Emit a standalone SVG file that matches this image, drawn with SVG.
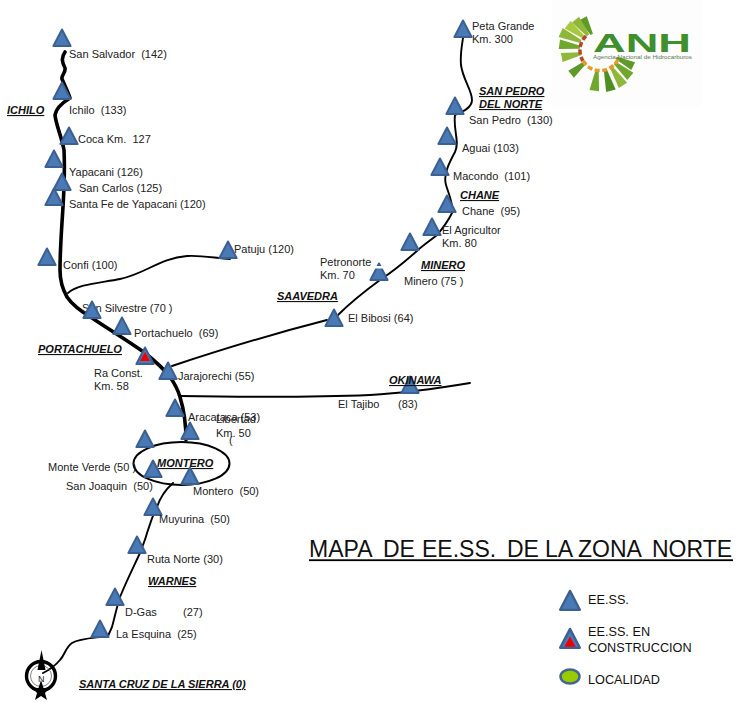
<svg xmlns="http://www.w3.org/2000/svg" width="749" height="718" viewBox="0 0 749 718">
<style>
text{font-family:"Liberation Sans",Arial,sans-serif;fill:#222}
.l{font-size:11px;white-space:pre}
.z{font-size:11px;font-weight:bold;font-style:italic;text-decoration:underline;fill:#111}
.leg{font-size:12.7px;fill:#111}
.r{fill:none;stroke:#000;stroke-linecap:round;stroke-linejoin:round}
.t{stroke-width:3.6}.n{stroke-width:1.9}
</style>
<defs>
<path id="tri" d="M0,-17.5 L8.6,-1 L-8.6,-1 Z" fill="#4a7ab5" stroke="#3b6091" stroke-width="2" stroke-linejoin="round"/>
<path id="triR" d="M0,-10 L5,-1 L-5,-1 Z" fill="#ee0000"/>
<path id="ray" d="M-1.5,-20 L-4.8,-41 L4.8,-41 L1.5,-20 Z"/>
</defs>
<rect width="749" height="718" fill="#fff"/>
<rect x="552" y="0" width="150" height="107" fill="#fdfdfd"/>
<g id="connectors">
<path class="r t" d="M65,52 C61,58 62,62 65,68 C66,73 61,75 62,79 C65,86 68,92 70,98 C62,103 56,108 55,115 C56,125 62,138 64,150 C65,170 64,190 63,207 C62,222 60,250 60,270 C60,282 63,290 67,297 C73,306 82,312 92,318 C110,330 128,341 145,353 C155,361 164,369 170,377 C175,384 178,390 180,397 C184,410 186,425 186,440"/>
<path class="r n" d="M68,293 C78,284 100,283 120,279 C145,274 160,258 187,256 C200,255 215,258 230,259"/>
<path class="r n" d="M172,366 C220,350 280,332 327,320"/>
<path class="r n" d="M338,315 C350,303 365,291 380,280 C395,270 408,259 418,250 C425,244 431,240 437,235 C443,228 448,221 452,213 C454,205 449,195 446,185 C443,175 449,163 455,152 C460,142 453,130 455,115 C462,112 472,108 472,100 C472,90 463,80 461,65 C460,55 462,45 463,38"/>
<path class="r n" d="M180,396 C240,397 300,398 370,395 C405,393 440,388 470,383"/>
<path class="r n" d="M173,483 C165,490 160,498 157,507 C152,516 150,525 147,533 C145,541 142,547 140,553 C133,568 126,582 120,597 C117,606 115,616 112,627 L108,636 C95,638 80,638 72,643 C65,648 65,655 60,660 C55,666 49,670 43,673"/>
</g>
<g id="montero-zone"><ellipse cx="181.5" cy="463.5" rx="48" ry="21.5" fill="none" stroke="#000" stroke-width="2"/><text class="z" x="157" y="467">MONTERO</text></g>
<g id="san-salvador"><use href="#tri" x="62" y="47"/><text class="l" x="69" y="58">San Salvador  (142)</text></g>
<g id="ichilo"><use href="#tri" x="62" y="100"/><text class="l" x="69" y="114">Ichilo  (133)</text></g>
<g id="coca"><use href="#tri" x="69" y="145"/><text class="l" x="78" y="143">Coca Km.  127</text></g>
<g id="yapacani"><use href="#tri" x="54" y="168"/><text class="l" x="69" y="176">Yapacani (126)</text></g>
<g id="san-carlos"><use href="#tri" x="62" y="191"/><text class="l" x="79" y="192">San Carlos (125)</text></g>
<g id="santa-fe"><use href="#tri" x="54" y="206"/><text class="l" x="69" y="208">Santa Fe de Yapacani (120)</text></g>
<g id="confi"><use href="#tri" x="47" y="266"/><text class="l" x="63" y="269">Confi (100)</text></g>
<g id="patuju"><use href="#tri" x="228" y="259"/><text class="l" x="234" y="253">Patuju (120)</text></g>
<g id="san-silvestre"><text class="l" x="82" y="312">San Silvestre (70 )</text><use href="#tri" x="92" y="319"/></g>
<g id="portachuelo"><use href="#tri" x="122" y="335"/><text class="l" x="134" y="337">Portachuelo  (69)</text></g>
<g id="ra-const"><use href="#tri" x="145" y="365"/><use href="#triR" x="145" y="362"/><text class="l" x="94" y="377">Ra Const.</text><text class="l" x="94" y="390">Km. 58</text></g>
<g id="jarajorechi"><use href="#tri" x="168" y="380"/><text class="l" x="178" y="380">Jarajorechi (55)</text></g>
<g id="aracataca"><use href="#tri" x="175" y="417"/><text class="l" x="188" y="421">Aracataca (53)</text></g>
<g id="km-50"><use href="#tri" x="190" y="440"/><text class="l" x="216" y="423">Libertad</text><text class="l" x="216" y="437">Km. 50</text><text class="l" x="229" y="444">(</text></g>
<g id="sin-nombre-1"><use href="#tri" x="145" y="448"/></g>
<g id="monte-verde"><use href="#tri" x="153" y="478"/><text class="l" x="48" y="471">Monte Verde (50 )</text></g>
<g id="san-joaquin"><text class="l" x="66" y="490">San Joaquin  (50)</text></g>
<g id="montero"><use href="#tri" x="190" y="485"/><text class="l" x="193" y="495">Montero  (50)</text></g>
<g id="muyurina"><use href="#tri" x="153" y="516"/><text class="l" x="159" y="523">Muyurina  (50)</text></g>
<g id="ruta-norte"><use href="#tri" x="137" y="554"/><text class="l" x="147" y="563">Ruta Norte (30)</text></g>
<g id="d-gas"><use href="#tri" x="115" y="606"/><text class="l" x="125" y="616">D-Gas</text><text class="l" x="183" y="616">(27)</text></g>
<g id="la-esquina"><use href="#tri" x="100" y="638"/><text class="l" x="116" y="638">La Esquina  (25)</text></g>
<g id="el-bibosi"><use href="#tri" x="334" y="327"/><text class="l" x="348" y="322">El Bibosi (64)</text></g>
<g id="petronorte"><use href="#tri" x="379" y="281"/><rect x="372" y="266" width="14" height="2.5" fill="#fff"/><text class="l" x="320" y="266">Petronorte</text><text class="l" x="320" y="279">Km. 70</text></g>
<g id="minero"><use href="#tri" x="410" y="251"/><text class="l" x="404" y="285">Minero (75 )</text></g>
<g id="el-agricultor"><use href="#tri" x="432" y="236"/><text class="l" x="442" y="234">El Agricultor</text><text class="l" x="442" y="247">Km. 80</text></g>
<g id="chane"><use href="#tri" x="447" y="213"/><text class="l" x="462" y="215">Chane  (95)</text></g>
<g id="macondo"><use href="#tri" x="440" y="176"/><text class="l" x="453" y="180">Macondo  (101)</text></g>
<g id="aguai"><use href="#tri" x="447" y="145"/><text class="l" x="462" y="152">Aguai (103)</text></g>
<g id="san-pedro"><use href="#tri" x="455" y="115"/><text class="l" x="469" y="124">San Pedro  (130)</text></g>
<g id="peta-grande"><use href="#tri" x="463" y="38"/><text class="l" x="472" y="30">Peta Grande</text><text class="l" x="472" y="43">Km. 300</text></g>
<g id="okinawa-es"><use href="#tri" x="410" y="394"/><text class="l" x="338" y="408">El Tajibo</text><text class="l" x="398" y="408">(83)</text></g>
<g id="zonas">
<text class="z" x="7" y="114">ICHILO</text>
<text class="z" x="38" y="353">PORTACHUELO</text>
<text class="z" x="277" y="300">SAAVEDRA</text>
<text class="z" x="421" y="269">MINERO</text>
<text class="z" x="389" y="384">OKINAWA</text>
<text class="z" x="460" y="199">CHANE</text>
<text class="z" x="479" y="95">SAN PEDRO</text>
<text class="z" x="479" y="108">DEL NORTE</text>
<text class="z" x="148" y="585">WARNES</text>
<text class="z" x="79" y="688">SANTA CRUZ DE LA SIERRA (0)</text>
</g>
<g id="brujula">
<circle cx="41" cy="676" r="14.5" fill="none" stroke="#000" stroke-width="3.4"/>
<circle cx="41" cy="676" r="10.5" fill="none" stroke="#666" stroke-width="0.8"/>
<path d="M41.5,650 L45.5,670 L37.5,670 Z" fill="#000"/>
<path d="M41,680 L43.5,688 L49.5,688 L45,693 L47,700 L41,696 L35,700 L37,693 L32.5,688 L38.5,688 Z" fill="#000"/>
<text x="38" y="682" style="font-size:9px">N</text>
</g>
<g id="logo">
<g transform="translate(600,50)">
<use href="#ray" fill="#5e9a28" transform="rotate(-28) scale(.88)"/>
<use href="#ray" fill="#8fb83a" transform="rotate(-39) scale(.95)"/>
<use href="#ray" fill="#a8c83e" transform="rotate(-52)"/>
<use href="#ray" fill="#8fb83a" transform="rotate(-66) scale(1.05)"/>
<use href="#ray" fill="#6fa82c" transform="rotate(-82)"/>
<use href="#ray" fill="#8fb83a" transform="rotate(-101) scale(.95)"/>
<use href="#ray" fill="#5e9a28" transform="rotate(-130) scale(.92)"/>
<use href="#ray" fill="#6fa82c" transform="rotate(-172)"/>
<use href="#ray" fill="#4f8f22" transform="rotate(165) scale(1.03)"/>
<use href="#ray" fill="#8fb83a" transform="rotate(147) scale(1.03)"/>
<use href="#ray" fill="#6fa82c" transform="rotate(131) scale(.98)"/>
<use href="#ray" fill="#5e9a28" transform="rotate(116) scale(.9)"/>
<path d="M-14,-14 A20,20 0 0 0 -17,11" fill="none" stroke="#b8452a" stroke-width="3.5" stroke-dasharray="5 2.5"/>
<path d="M-17,11 A20,20 0 0 0 19,7" fill="none" stroke="#e89a2a" stroke-width="3.5" stroke-dasharray="5 2.5"/>
</g>
<text x="593" y="52" textLength="98" lengthAdjust="spacingAndGlyphs" style="font-size:26px;font-weight:bold;fill:#3f8f2c">ANH</text>
<text x="593" y="58.5" textLength="99" lengthAdjust="spacingAndGlyphs" style="font-size:4.5px;fill:#5a7a50">Agencia Nacional de Hidrocarburos</text>
</g>
<g id="titulo"><text y="557" style="font-size:23px;fill:#111"><tspan x="309">MAPA</tspan> <tspan x="383">DE</tspan> <tspan x="422">EE.SS.</tspan> <tspan x="507">DE</tspan> <tspan x="545">LA</tspan> <tspan x="578">ZONA</tspan> <tspan x="652">NORTE</tspan></text><rect x="309" y="559.3" width="424" height="1.8" fill="#000"/></g>
<g id="leyenda">
<use href="#tri" x="570" y="611" transform="translate(570,611) scale(1.15) translate(-570,-611)"/>
<text class="leg" x="588" y="604">EE.SS.</text>
<use href="#tri" x="570" y="649" transform="translate(570,649) scale(1.15) translate(-570,-649)"/>
<use href="#triR" x="570" y="648" transform="translate(570,648) scale(1.15) translate(-570,-648)"/>
<text class="leg" x="588" y="636">EE.SS. EN</text>
<text class="leg" x="588" y="652">CONSTRUCCION</text>
<ellipse cx="570" cy="676.5" rx="9.5" ry="7" fill="#99cc00" stroke="#44668f" stroke-width="2.5"/>
<text class="leg" x="588" y="684">LOCALIDAD</text>
</g>
</svg>
